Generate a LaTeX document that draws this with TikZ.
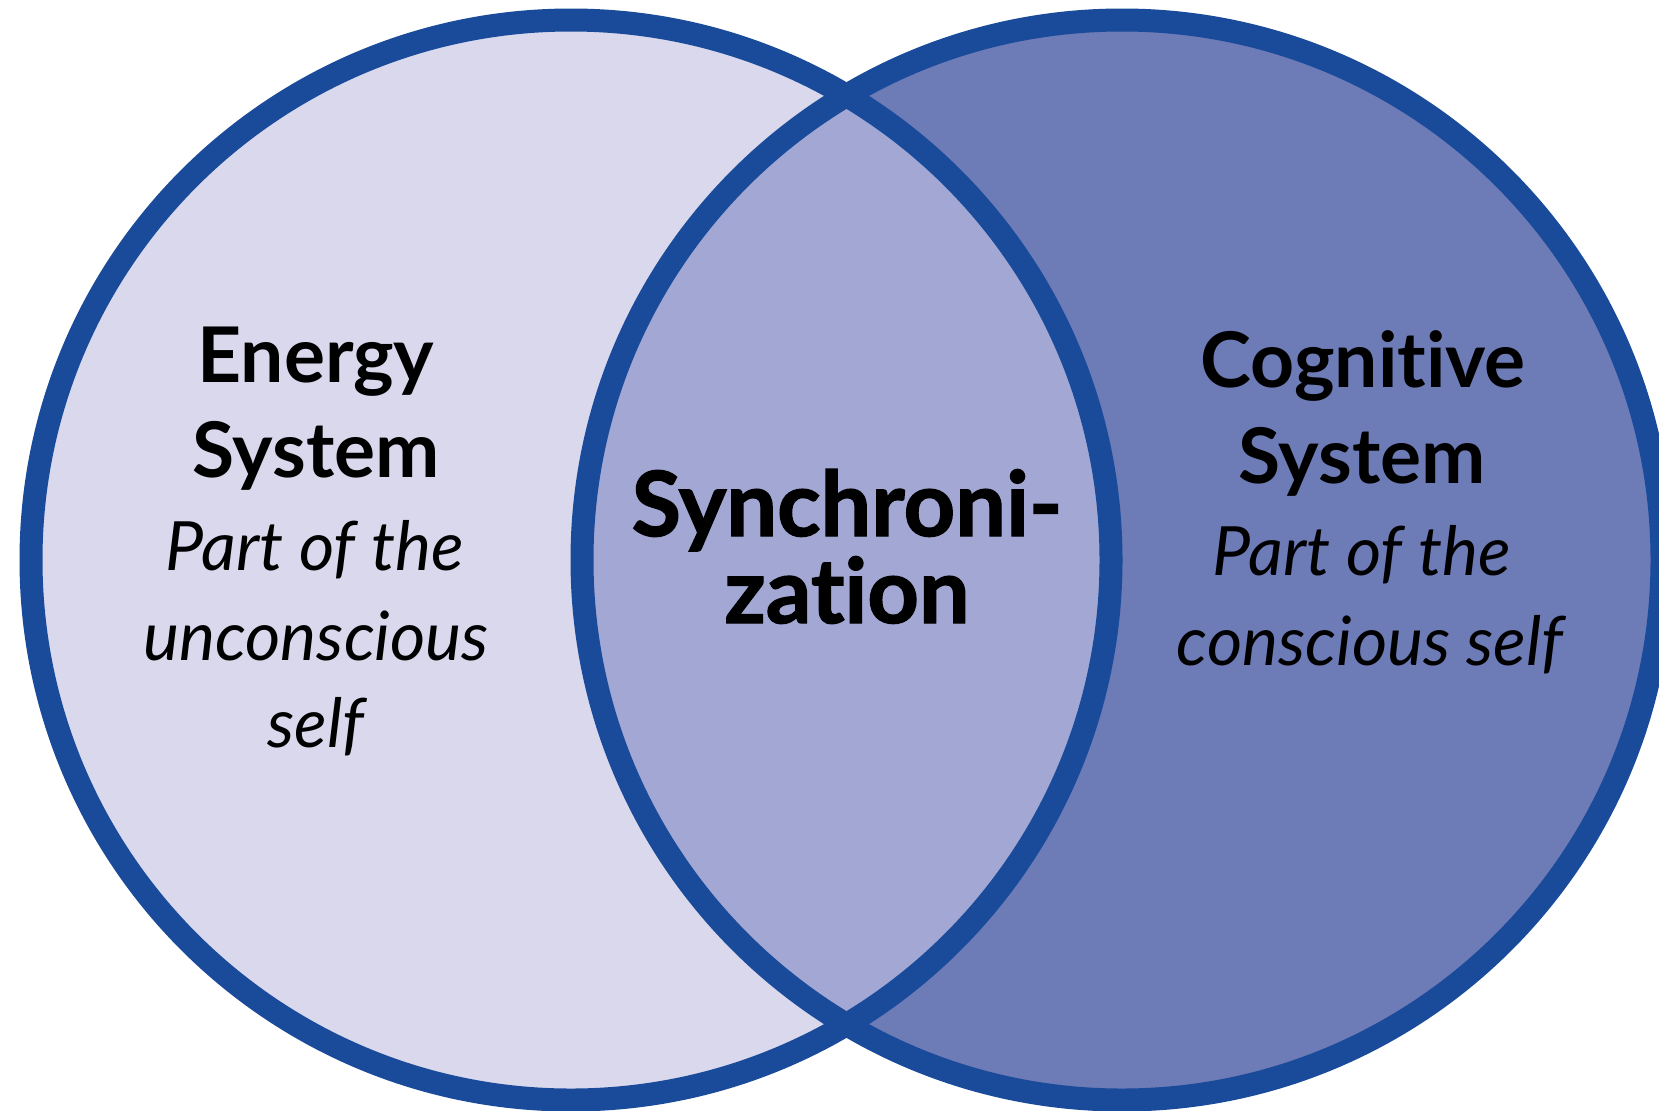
\documentclass[tikz,border=0pt]{standalone}
\usepackage{fontspec}
\setmainfont{Lato}[Ligatures={NoCommon}]
\newfontfamily\heavyfont{Lato}[Ligatures={NoCommon},BoldFeatures={FakeBold=1.5}]
\definecolor{leftfill}{HTML}{D9D8EC}
\definecolor{midfill}{HTML}{A2A8D3}
\definecolor{rightfill}{HTML}{6D7BB7}
\definecolor{rimblue}{HTML}{1A4B9A}
\begin{document}
\begin{tikzpicture}[x=0.5pt,y=-0.5pt,
  rim/.style={draw=rimblue,line width=11.5pt},
  title/.style={anchor=base,inner sep=0pt,font=\fontsize{38.4}{44}\selectfont\bfseries},
  sub/.style={anchor=base,inner sep=0pt,font=\fontsize{34}{38}\selectfont\itshape},
  mid/.style={anchor=base,inner sep=0pt,font=\fontsize{45}{50}\selectfont\heavyfont\bfseries}]
\useasboundingbox (0,0) rectangle (1659,1110);
\coordinate (lc) at (571,560);
\coordinate (rc) at (1122,560);
\fill[leftfill] (lc) circle[radius=270pt];
\fill[rightfill] (rc) circle[radius=270pt];
\begin{scope}
  \clip (lc) circle[radius=270pt];
  \fill[midfill] (rc) circle[radius=270pt];
\end{scope}
\draw[rim] (lc) circle[radius=270pt];
\draw[rim] (rc) circle[radius=270pt];
% left texts
\node[title] (l1) at (316,382) {Energy};
\node[title] (l2) at (316,477) {System};
\node[sub] (l3) at (315,570) {Part of the};
\node[sub] (l4) at (316,660) {unconscious};
\node[sub] (l5) at (316,747) {self};
% right texts
\node[title] (r1) at (1363,387) {Cognitive};
\node[title] (r2) at (1362,483) {System};
\node[sub] (r3) at (1362,575) {Part of the};
\node[sub] (r4) at (1370,665) {conscious self};
% center
\node[mid] (c1) at (847,536) {Synchroni-};
\node[mid] (c2) at (847,623) {zation};
\end{tikzpicture}
\end{document}
